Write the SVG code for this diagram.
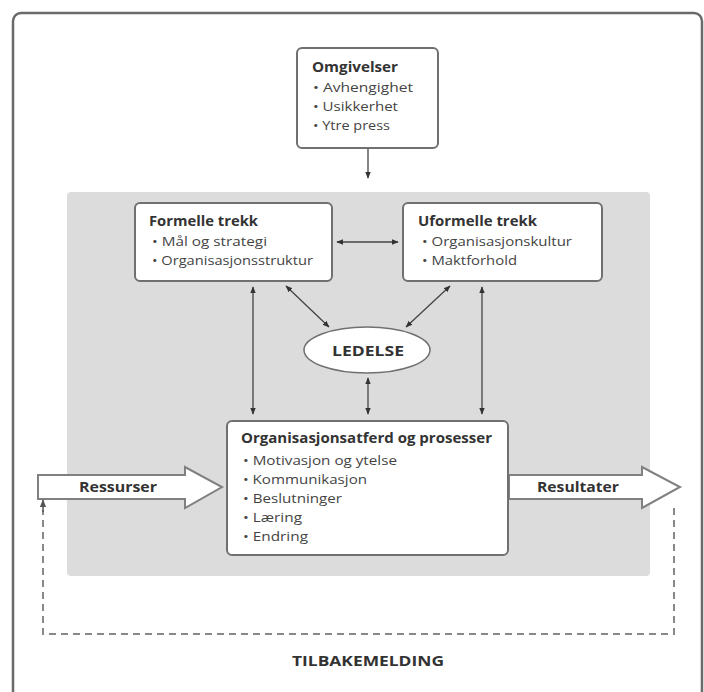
<svg xmlns="http://www.w3.org/2000/svg" width="704" height="692" viewBox="0 0 704 692">
<style>
.box{fill:#fff;stroke:#707070;stroke-width:2}
.t{font-family:"Open Sans","Noto Sans",sans-serif;font-size:14px;font-weight:bold;fill:#333}
.b{font-family:"Open Sans","Noto Sans",sans-serif;font-size:13.5px;fill:#444}
.c{stroke:#444;stroke-width:1.3;fill:none}
.big{fill:#fff;stroke:#808080;stroke-width:2}
.dash{stroke:#888;stroke-width:2;fill:none;stroke-dasharray:7,5}
</style>
<defs>
<marker id="ah" viewBox="0 0 10 10" refX="9" refY="5" markerWidth="7" markerHeight="7" orient="auto-start-reverse" markerUnits="userSpaceOnUse">
<path d="M0,1 L10,5 L0,9 Z" fill="#333"/>
</marker>
<marker id="ahd" viewBox="0 0 10 10" refX="9" refY="5" markerWidth="8" markerHeight="8" orient="auto" markerUnits="userSpaceOnUse">
<path d="M0,1 L10,5 L0,9 Z" fill="#555"/>
</marker>
</defs>
<rect width="704" height="692" fill="#fff"/>
<rect id="frame" x="13" y="13" width="689" height="695" rx="8" fill="none" stroke="#6a6a6a" stroke-width="2.5"/>
<rect id="panel" x="67" y="192" width="583" height="384" rx="4" fill="#dcdcdc"/>

<g id="connectors">
<line class="c" x1="368" y1="149" x2="368" y2="178" marker-end="url(#ah)"/>
<line class="c" x1="337" y1="242" x2="398" y2="242" marker-start="url(#ah)" marker-end="url(#ah)"/>
<line class="c" x1="286" y1="286" x2="329" y2="327" marker-start="url(#ah)" marker-end="url(#ah)"/>
<line class="c" x1="450" y1="286" x2="406" y2="327" marker-start="url(#ah)" marker-end="url(#ah)"/>
<line class="c" x1="253" y1="287" x2="253" y2="414" marker-start="url(#ah)" marker-end="url(#ah)"/>
<line class="c" x1="482" y1="287" x2="482" y2="414" marker-start="url(#ah)" marker-end="url(#ah)"/>
<line class="c" x1="368" y1="378" x2="368" y2="414" marker-start="url(#ah)" marker-end="url(#ah)"/>
<path id="ressurser-arrow" class="big" d="M38,475 L185,475 L185,467 L222,487 L185,508 L185,499 L38,499 Z"/>
<path id="resultater-arrow" class="big" d="M509,475 L642,475 L642,467 L680,487 L642,508 L642,499 L509,499 Z"/>
<path class="dash" d="M674,508 L674,634 L43,634 L43,510"/>
<line x1="43" y1="512" x2="43" y2="500" stroke="#555" stroke-width="1.5" marker-end="url(#ahd)"/>
</g>

<g id="omgivelser">
<rect class="box" x="297" y="48" width="141" height="100" rx="5"/>
<text class="t" x="312" y="72" textLength="86" lengthAdjust="spacingAndGlyphs">Omgivelser</text>
<text class="b" x="313" y="92" textLength="100" lengthAdjust="spacingAndGlyphs">• Avhengighet</text>
<text class="b" x="313" y="111" textLength="85" lengthAdjust="spacingAndGlyphs">• Usikkerhet</text>
<text class="b" x="313" y="130" textLength="77" lengthAdjust="spacingAndGlyphs">• Ytre press</text>
</g>

<g id="formelle">
<rect class="box" x="135" y="203" width="197" height="78" rx="5"/>
<text class="t" x="149" y="226" textLength="109" lengthAdjust="spacingAndGlyphs">Formelle trekk</text>
<text class="b" x="152" y="246" textLength="115" lengthAdjust="spacingAndGlyphs">• Mål og strategi</text>
<text class="b" x="152" y="265" textLength="161" lengthAdjust="spacingAndGlyphs">• Organisasjonsstruktur</text>
</g>

<g id="uformelle">
<rect class="box" x="403" y="203" width="199" height="78" rx="5"/>
<text class="t" x="418" y="226" textLength="119" lengthAdjust="spacingAndGlyphs">Uformelle trekk</text>
<text class="b" x="422" y="246" textLength="150" lengthAdjust="spacingAndGlyphs">• Organisasjonskultur</text>
<text class="b" x="422" y="265" textLength="95" lengthAdjust="spacingAndGlyphs">• Maktforhold</text>
</g>

<g id="ledelse">
<ellipse cx="367" cy="350" rx="63" ry="23" fill="#fff" stroke="#707070" stroke-width="1.5"/>
<text class="t" x="332" y="356" textLength="72" lengthAdjust="spacingAndGlyphs" style="font-size:15px">LEDELSE</text>
</g>

<g id="prosesser">
<rect class="box" x="227" y="421" width="281" height="134" rx="5"/>
<text class="t" x="241" y="443" textLength="251" lengthAdjust="spacingAndGlyphs">Organisasjonsatferd og prosesser</text>
<text class="b" x="243" y="465" textLength="154" lengthAdjust="spacingAndGlyphs">• Motivasjon og ytelse</text>
<text class="b" x="243" y="484" textLength="124" lengthAdjust="spacingAndGlyphs">• Kommunikasjon</text>
<text class="b" x="243" y="503" textLength="99" lengthAdjust="spacingAndGlyphs">• Beslutninger</text>
<text class="b" x="243" y="522" textLength="59" lengthAdjust="spacingAndGlyphs">• Læring</text>
<text class="b" x="243" y="541" textLength="65" lengthAdjust="spacingAndGlyphs">• Endring</text>
</g>

<g id="labels">
<text class="t" x="79" y="492" textLength="78" lengthAdjust="spacingAndGlyphs" style="font-size:15px">Ressurser</text>
<text class="t" x="537" y="492" textLength="82" lengthAdjust="spacingAndGlyphs" style="font-size:15px">Resultater</text>
<text class="t" x="292" y="666" textLength="152" lengthAdjust="spacingAndGlyphs" style="font-size:15px">TILBAKEMELDING</text>
</g>
</svg>
